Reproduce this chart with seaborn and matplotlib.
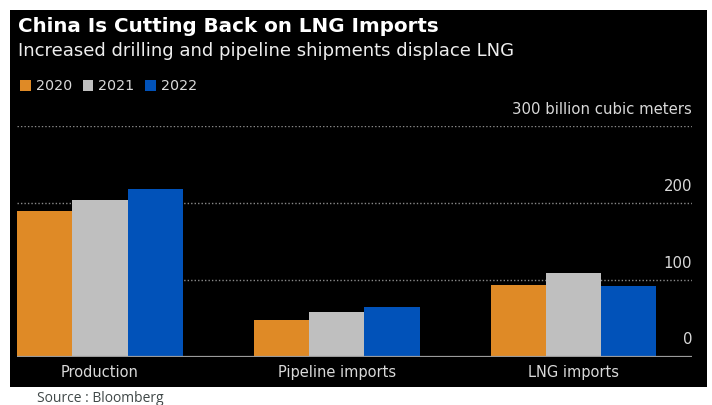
import matplotlib
matplotlib.use("Agg")
import matplotlib.pyplot as plt
import matplotlib.patches as mpatches
import matplotlib.transforms as mtransforms
import pandas as pd
import seaborn as sns

# Chinese natural gas supply, billion cubic meters
categories = ["Production", "Pipeline imports", "LNG imports"]
years = ["2020", "2021", "2022"]
values_2020 = [190, 48, 93]
values_2021 = [204, 58, 109]
values_2022 = [218, 64, 92]
y_ticks = [0, 100, 200, 300]
y_tick_labels = ["0", "100", "200", "300 billion cubic meters"]

colors = ["#DF8A26", "#BFBFBF", "#0152B9"]

df = pd.DataFrame({
    "category": categories * 3,
    "year": [y for y in years for _ in categories],
    "value": values_2020 + values_2021 + values_2022,
})

sns.set_theme(style="dark")
plt.rcParams["font.family"] = ["DejaVu Sans"]

W, H = 712, 405
fig = plt.figure(figsize=(W / 100, H / 100), dpi=100, facecolor="white")

# black panel behind the chart
fig.patches.append(mpatches.Rectangle(
    (10 / W, 1 - 387 / H), 697 / W, 377 / H,
    transform=fig.transFigure, facecolor="black", edgecolor="none", zorder=-5))

ax = fig.add_axes([17 / W, 1 - 356.5 / H, 675 / W, 230.5 / H])
ax.set_facecolor("black")

sns.barplot(data=df, x="category", y="value", hue="year", order=categories,
            hue_order=years, palette=colors, width=0.7, saturation=1,
            edgecolor="none", linewidth=0, ax=ax, legend=False, zorder=2)

ax.set_xlim(-0.35, 2.5)
ax.set_ylim(0, 300)
for s in ax.spines.values():
    s.set_visible(False)
ax.grid(False)

# dotted gridlines and solid baseline
for t in y_ticks[1:]:
    ax.axhline(t, color="#8a8a8a", lw=1.0, ls=(0, (1, 1.5)), zorder=1)
ax.axhline(0, color="#9a9a9a", lw=1.6, zorder=3)

ax.set_yticks([])
ax.set_xlabel("")
ax.set_ylabel("")
ax.tick_params(axis="x", length=0, pad=6, labelsize=10.5, labelcolor="#d9d9d9")

# value labels sitting above each gridline at the right edge
trans = mtransforms.blended_transform_factory(ax.transAxes, ax.transData)
for t, lab in zip(y_ticks, y_tick_labels):
    ax.annotate(lab, xy=(1.0, t), xycoords=trans, xytext=(0, 12), textcoords="offset points",
                ha="right", va="center", fontsize=10.7, color="#d9d9d9")

# titles
fig.text(18 / W, 1 - 32 / H, "China Is Cutting Back on LNG Imports", ha="left",
         va="baseline", fontsize=14.3, fontweight="bold", color="white")
fig.text(18 / W, 1 - 56.5 / H, "Increased drilling and pipeline shipments displace LNG",
         ha="left", va="baseline", fontsize=13, color="#eeeeee")

handles = [mpatches.Patch(facecolor=c, edgecolor="none") for c in colors]
fig.legend(handles, years, loc="center left", bbox_to_anchor=(20 / W, 1 - 86.5 / H),
           ncol=3, frameon=False, fontsize=10.3, handlelength=0.75, handleheight=0.75,
           handletextpad=0.34, columnspacing=0.75, labelcolor="#d9d9d9",
           borderaxespad=0, borderpad=0)

fig.text(37 / W, 1 - 398 / H, "Source : Bloomberg", ha="left", va="center",
         fontsize=10, color="#404848", family=["Open Sans", "DejaVu Sans"])

fig.savefig("out.png", dpi=100, facecolor="white")
